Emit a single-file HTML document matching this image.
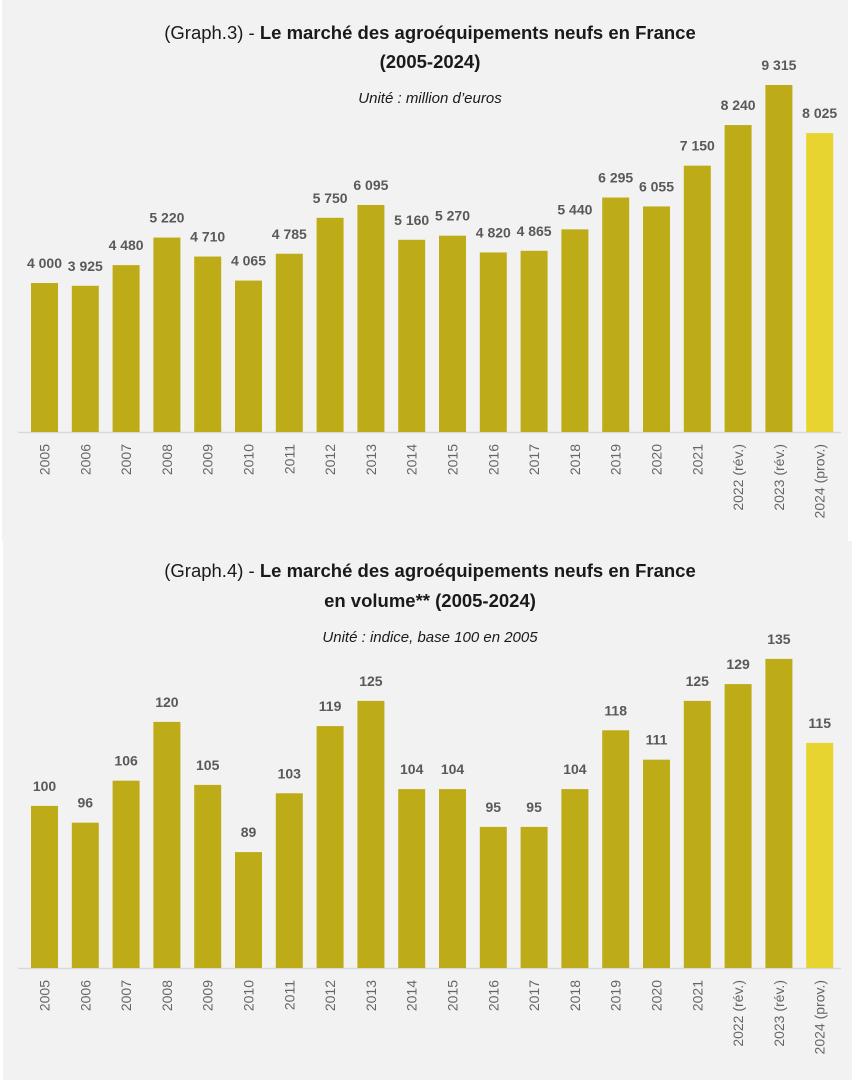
<!DOCTYPE html>
<html><head><meta charset="utf-8"><style>
html,body{margin:0;padding:0;background:#fff;}
svg{display:block;font-family:"Liberation Sans",sans-serif;}
</style></head><body>
<svg id="chart" width="860" height="1080">
<rect x="2" y="0" width="846" height="541" fill="#f2f2f2"/>
<rect x="3" y="541" width="849" height="539" fill="#f2f2f2"/>
<text x="430" y="39" text-anchor="middle" font-size="18.5" fill="#1a1a1a">(Graph.3) - <tspan font-weight="bold">Le marché des agroéquipements neufs en France</tspan></text>
<text x="430" y="68" text-anchor="middle" font-size="18.5" font-weight="bold" fill="#1a1a1a">(2005-2024)</text>
<text x="430" y="103" text-anchor="middle" font-size="15" font-style="italic" fill="#1a1a1a">Unité : million d’euros</text>
<text x="430" y="577" text-anchor="middle" font-size="18.5" fill="#1a1a1a">(Graph.4) - <tspan font-weight="bold">Le marché des agroéquipements neufs en France</tspan></text>
<text x="430" y="607" text-anchor="middle" font-size="18.5" font-weight="bold" fill="#1a1a1a">en volume** (2005-2024)</text>
<text x="430" y="642" text-anchor="middle" font-size="15" font-style="italic" fill="#1a1a1a">Unité : indice, base 100 en 2005</text>
<g id="g3"></g><g id="g4"></g>
</svg>
<script>
const categories = ["2005","2006","2007","2008","2009","2010","2011","2012","2013","2014","2015","2016","2017","2018","2019","2020","2021","2022 (rév.)","2023 (rév.)","2024 (prov.)"];
const valueSeries = [4000,3925,4480,5220,4710,4065,4785,5750,6095,5160,5270,4820,4865,5440,6295,6055,7150,8240,9315,8025];
const valueLabels = ["4 000","3 925","4 480","5 220","4 710","4 065","4 785","5 750","6 095","5 160","5 270","4 820","4 865","5 440","6 295","6 055","7 150","8 240","9 315","8 025"];
const volumeSeries = [100,96,106,120,105,89,103,119,125,104,104,95,95,104,118,111,125,129,135,115];
const NS="http://www.w3.org/2000/svg";
function xC(i){return 44.5+i*40.8;}
function draw(gid,vals,labels,base,yFn,prefix){
  const g=document.getElementById(gid);
  const ax=document.createElementNS(NS,"line");
  ax.setAttribute("x1",18);ax.setAttribute("x2",841);ax.setAttribute("y1",base+0.5);ax.setAttribute("y2",base+0.5);
  ax.setAttribute("stroke","#d9d9d9");ax.setAttribute("stroke-width","1.5");
  
  
  g.appendChild(ax);
  vals.forEach((v,i)=>{
    const y=yFn(v);const cx=xC(i);
    const r=document.createElementNS(NS,"rect");
    r.setAttribute("x",cx-13.5);r.setAttribute("width",27);r.setAttribute("y",y);r.setAttribute("height",base-y);
    r.setAttribute("fill",i===vals.length-1?"#e8d42e":"#bdac17");
    
    
    g.appendChild(r);
    const t=document.createElementNS(NS,"text");
    t.setAttribute("x",cx);t.setAttribute("y",y-15);t.setAttribute("text-anchor","middle");
    t.setAttribute("font-size","14");t.setAttribute("font-weight","bold");t.setAttribute("fill","#595959");
    t.textContent=labels[i];
    
    
    g.appendChild(t);
    const c=document.createElementNS(NS,"text");
    c.setAttribute("transform","translate("+(cx+5)+","+(base+12)+") rotate(-90)");
    c.setAttribute("text-anchor","end");c.setAttribute("font-size","14");c.setAttribute("fill","#666");
    c.textContent=categories[i];
    
    
    g.appendChild(c);
  });
}
draw("g3",valueSeries,valueLabels,432,v=>432-v*0.03725,"graph3");
draw("g4",volumeSeries,volumeSeries.map(String),968,v=>968-(v-61.4)*4.2,"graph4");
</script>
</body></html>
